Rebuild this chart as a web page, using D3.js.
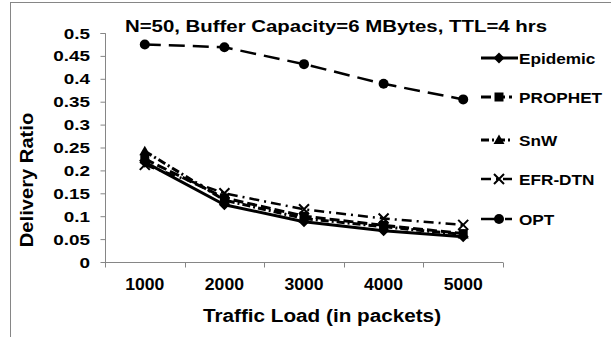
<!DOCTYPE html>
<html>
<head>
<meta charset="utf-8">
<script src="https://cdn.jsdelivr.net/npm/d3@7"></script>
<style>
  body { margin: 0; background: #fff; }
  text { font-family: "Liberation Sans", Arial, sans-serif; font-weight: bold; fill: #000; }
</style>
</head>
<body>
<svg id="chart" width="611" height="337"></svg>
<script>
// Delivery ratio vs. traffic load for each routing scheme
const categories = ["1000", "2000", "3000", "4000", "5000"];
const seriesNames = ["Epidemic", "PROPHET", "SnW", "EFR-DTN", "OPT"];
const epidemic = [0.218, 0.125, 0.088, 0.068, 0.055];
const prophet  = [0.225, 0.140, 0.100, 0.080, 0.062];
const snw      = [0.242, 0.135, 0.095, 0.077, 0.060];
const efrDtn   = [0.212, 0.150, 0.115, 0.095, 0.081];
const opt      = [0.475, 0.469, 0.432, 0.389, 0.355];
const yTicks = [0, 0.05, 0.1, 0.15, 0.2, 0.25, 0.3, 0.35, 0.4, 0.45, 0.5];
const yTickLabels = ["0", "0.05", "0.1", "0.15", "0.2", "0.25", "0.3", "0.35", "0.4", "0.45", "0.5"];
const chartTitle = "N=50, Buffer Capacity=6 MBytes, TTL=4 hrs";
const xTitle = "Traffic Load (in packets)";
const yTitle = "Delivery Ratio";

const seriesValues = [epidemic, prophet, snw, efrDtn, opt];

const svg = d3.select("#chart");
const axisColor = "#868686";

const x = d3.scaleBand().domain(categories).range([105, 503]);
const y = d3.scaleLinear().domain([0, 0.5]).range([262, 33]);

// outer frame
svg.append("rect")
  .attr("x", 10.5).attr("y", 2.5).attr("width", 640).attr("height", 400)
  .attr("fill", "none").attr("stroke", axisColor).attr("stroke-width", 1);

// text helper with horizontal stretch
function label(parent, str, px, py, size, sx, anchor, rotate) {
  const g = parent.append("g")
    .attr("transform", `translate(${px},${py})${rotate ? ` rotate(${rotate})` : ""} scale(${sx},1)`);
  g.append("text")
    .attr("text-anchor", anchor)
    .style("font-size", size + "px")
    .text(str);
  return g;
}

// y axis
const yAxis = svg.append("g")
  .attr("transform", "translate(105.5,0)")
  .call(d3.axisLeft(y).tickValues(yTicks).tickSize(5).tickFormat(""));
yAxis.selectAll("path, line").attr("stroke", axisColor);
yAxis.select(".domain").attr("d", `M-5,${y(0.5) + 0.5}H0V${y(0) + 0.5}`);
yTicks.forEach((t, i) => {
  label(svg, yTickLabels[i], 90, y(t) + 5.5, 15.5, 1.22, "end");
});

// x axis: ticks sit between categories
const xAxisG = svg.append("g").attr("transform", "translate(0,262.5)");
xAxisG.append("line")
  .attr("x1", x.range()[0]).attr("x2", x.range()[1])
  .attr("stroke", axisColor);
const edges = categories.map(c => x(c)).concat([x.range()[1]]);
xAxisG.selectAll("line.tick").data(edges).enter().append("line")
  .attr("class", "tick")
  .attr("x1", d => Math.round(d) + 0.5).attr("x2", d => Math.round(d) + 0.5)
  .attr("y1", 0).attr("y2", 5)
  .attr("stroke", axisColor);
categories.forEach(c => {
  label(svg, c, x(c) + x.bandwidth() / 2, 290, 16, 1.1, "middle");
});

// titles
label(svg, chartTitle, 336, 32, 17, 1.2, "middle");
label(svg, xTitle, 322, 322, 19, 1.09, "middle");
label(svg, yTitle, 33, 180, 18, 1.12, "middle", -90);

// series styles
const styles = [
  { dash: null,          width: 3,   marker: "diamond" },
  { dash: "10,4",        width: 3,   marker: "square" },
  { dash: "8,3,2,3",     width: 3,   marker: "triangle" },
  { dash: "10,5,2,5",    width: 2.5, marker: "x" },
  { dash: "16,8",        width: 2.5, marker: "circle" }
];

function drawMarker(g, type, cx, cy) {
  if (type === "diamond") {
    g.append("path").attr("d", `M${cx},${cy - 5.5}L${cx + 5.5},${cy}L${cx},${cy + 5.5}L${cx - 5.5},${cy}Z`).attr("fill", "#000");
  } else if (type === "square") {
    g.append("rect").attr("x", cx - 4.5).attr("y", cy - 4.5).attr("width", 9).attr("height", 9).attr("fill", "#000");
  } else if (type === "triangle") {
    g.append("path").attr("d", `M${cx},${cy - 5.5}L${cx + 5.5},${cy + 4}L${cx - 5.5},${cy + 4}Z`).attr("fill", "#000");
  } else if (type === "x") {
    g.append("path").attr("d", `M${cx - 5},${cy - 5}L${cx + 5},${cy + 5}M${cx + 5},${cy - 5}L${cx - 5},${cy + 5}`)
      .attr("stroke", "#000").attr("stroke-width", 2).attr("fill", "none");
  } else {
    g.append("circle").attr("cx", cx).attr("cy", cy).attr("r", 5).attr("fill", "#000");
  }
}

const line = d3.line()
  .x((d, i) => x(categories[i]) + x.bandwidth() / 2)
  .y(d => y(d));

seriesValues.forEach((vals, si) => {
  const st = styles[si];
  const g = svg.append("g");
  g.append("path")
    .attr("d", line(vals))
    .attr("fill", "none")
    .attr("stroke", "#000")
    .attr("stroke-width", st.width)
    .attr("stroke-dasharray", st.dash)
    .attr("stroke-linejoin", "round");
  vals.forEach((v, i) => drawMarker(g, st.marker, x(categories[i]) + x.bandwidth() / 2, y(v)));
});

// legend
const legendRows = [58, 97, 140, 179, 219];
seriesNames.forEach((name, si) => {
  const st = styles[si];
  const g = svg.append("g");
  const ly = legendRows[si];
  g.append("line")
    .attr("x1", 481).attr("x2", st.dash ? 512 : 518)
    .attr("y1", ly).attr("y2", ly)
    .attr("stroke", "#000").attr("stroke-width", st.width)
    .attr("stroke-dasharray", st.dash);
  drawMarker(g, st.marker, 499, ly);
  label(svg, name, 519, ly + 6, 15.5, 1.11, "start");
});
</script>
</body>
</html>
